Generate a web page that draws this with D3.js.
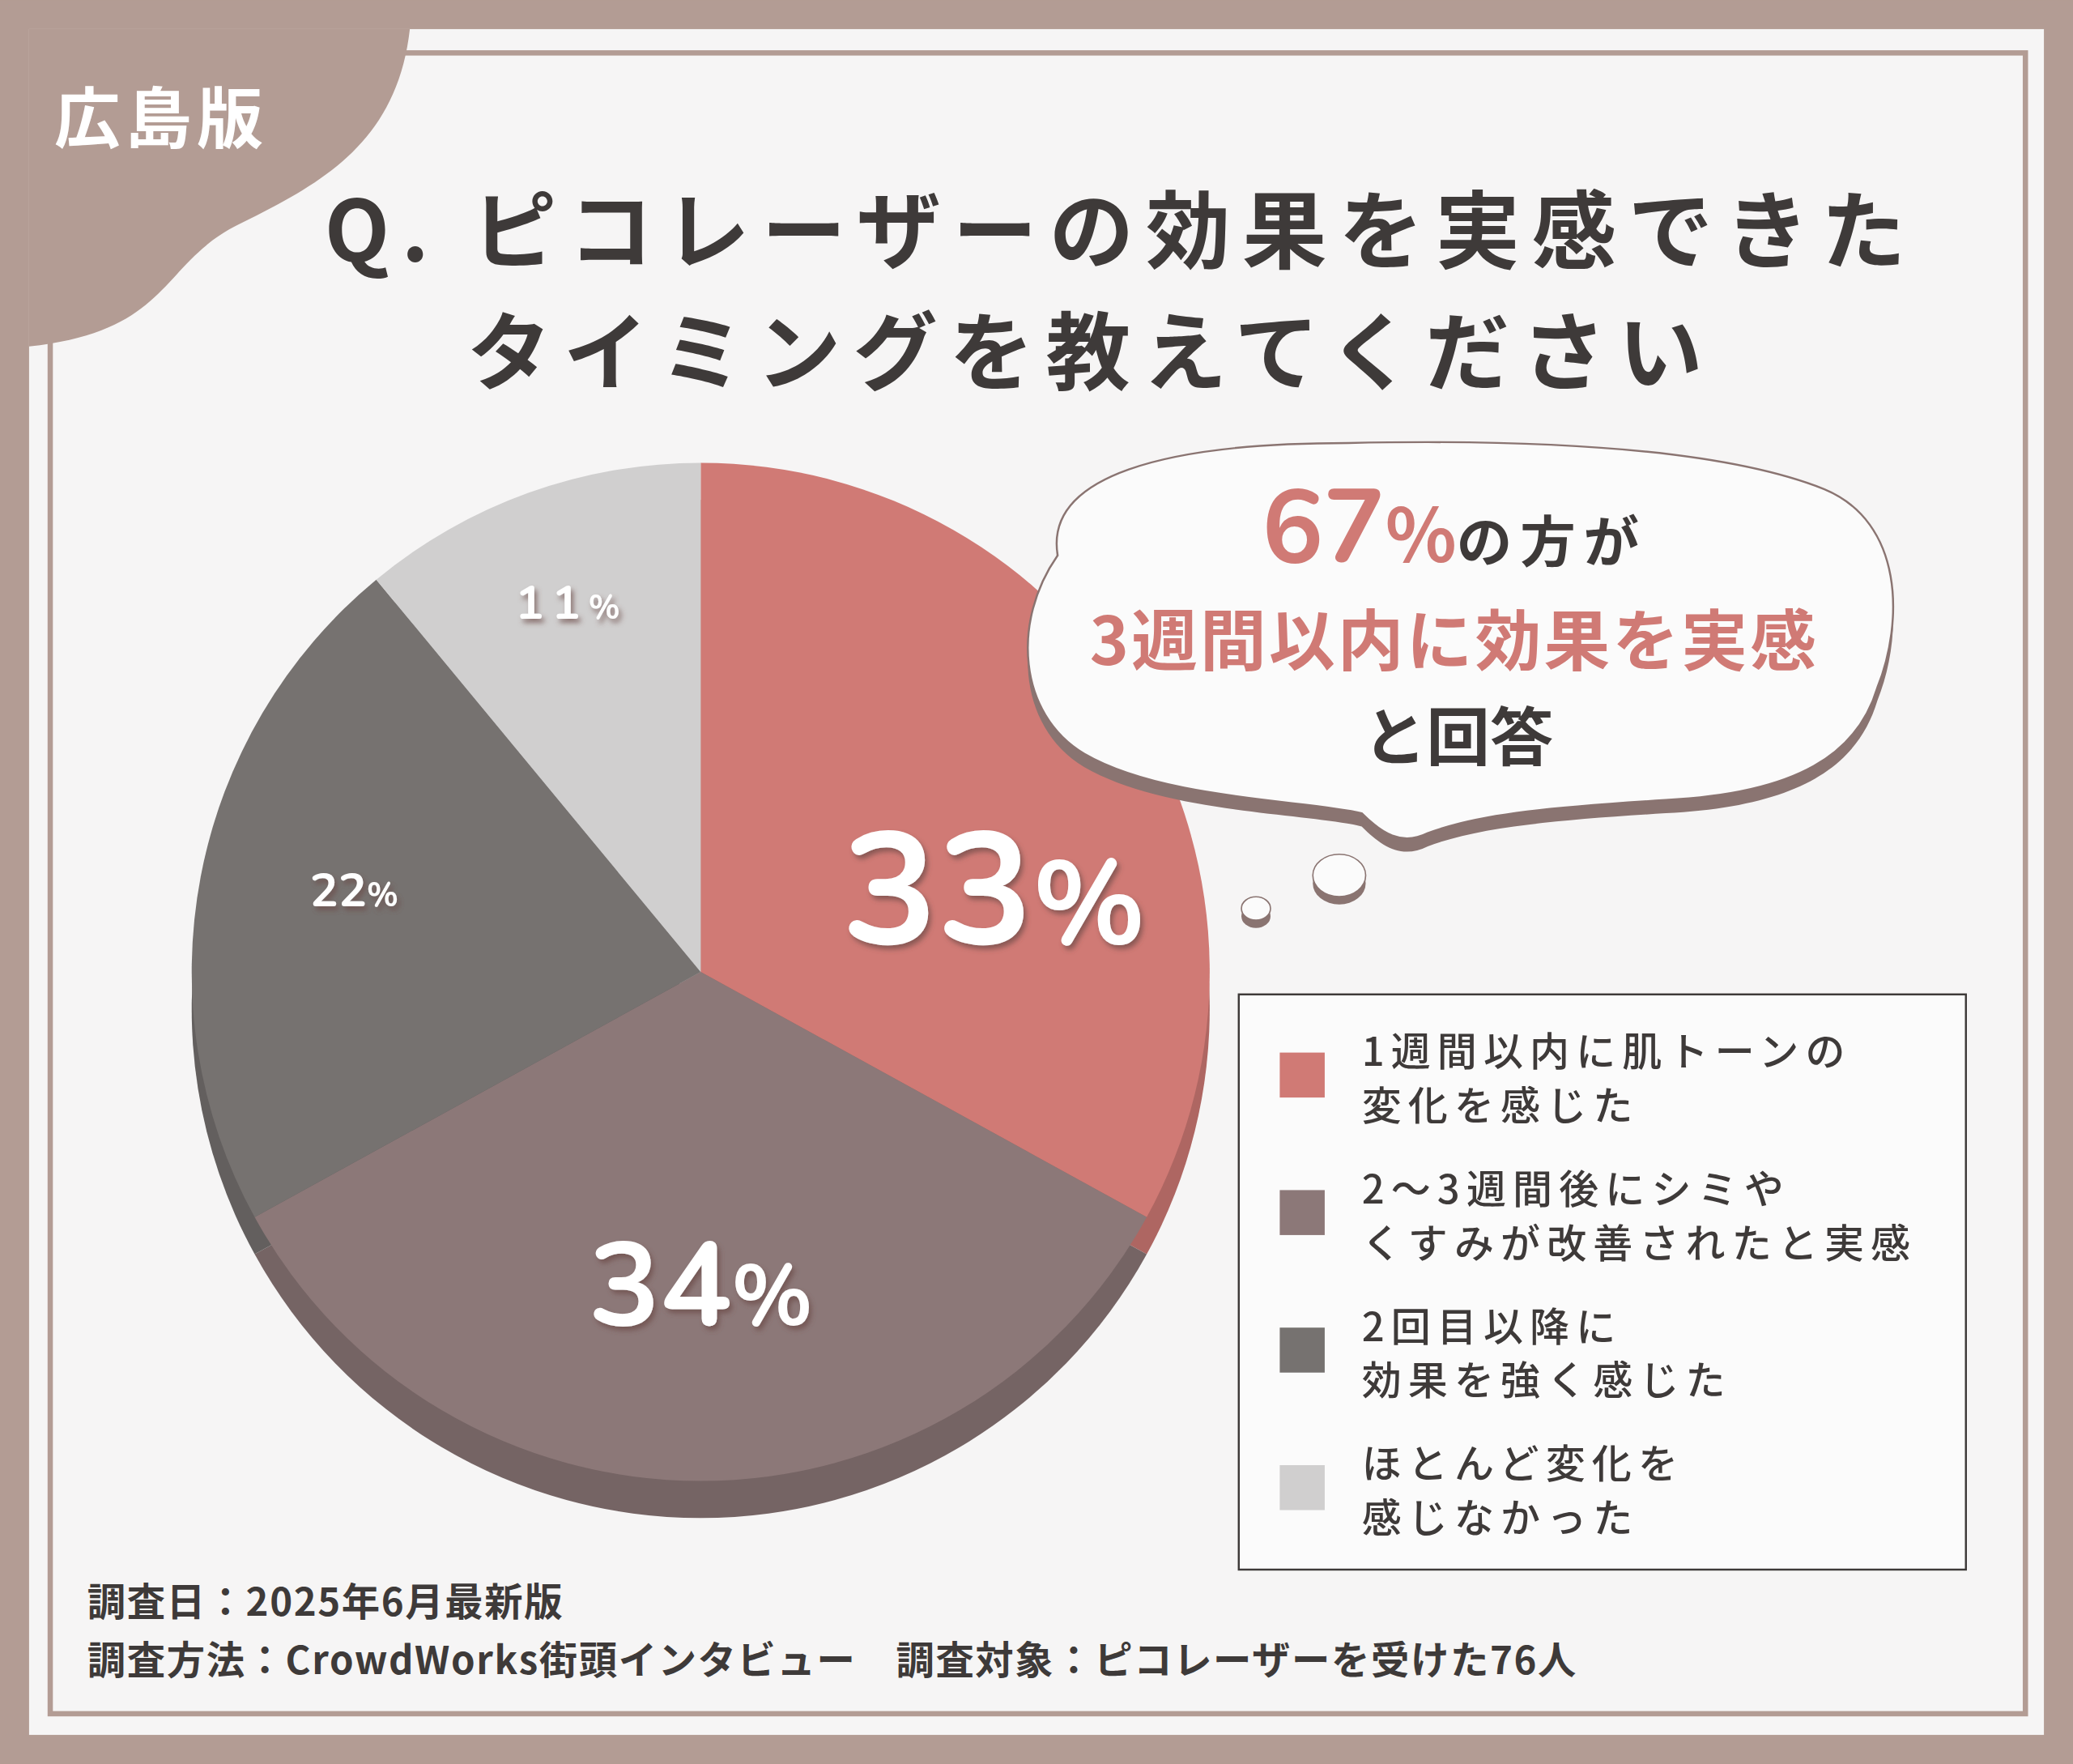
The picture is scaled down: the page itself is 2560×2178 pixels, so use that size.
<!DOCTYPE html>
<html><head><meta charset="utf-8">
<script src="https://cdn.jsdelivr.net/npm/d3@7"></script>
<style>
body{margin:0;background:#b39c94;}
svg{display:block;font-family:"Noto Sans CJK JP","Noto Sans",sans-serif;}
</style></head>
<body>
<svg id="chart" width="2560" height="2178" viewBox="0 0 1568 1334"></svg>
<script>
// chart values
var categories = ['1週間以内に肌トーンの\n変化を感じた', '2〜3週間後にシミや\nくすみが改善されたと実感', '2回目以降に\n効果を強く感じた', 'ほとんど変化を\n感じなかった'];
var values = [33, 34, 22, 11];
var colors = ['#d07a75', '#8c7878', '#767270', '#d0cfcf'];
var titleLines = ['Q. ピコレーザーの効果を実感できた', 'タイミングを教えてください'];
var footerLines = ['調査日：2025年6月最新版', '調査方法：CrowdWorks街頭インタビュー　調査対象：ピコレーザーを受けた76人'];

var svg = d3.select('#chart');
var defs = svg.append('defs');
var f = defs.append('filter').attr('id', 'tshadow').attr('x', '-20%').attr('y', '-20%').attr('width', '140%').attr('height', '140%');
f.append('feDropShadow').attr('dx', 2).attr('dy', 3).attr('stdDeviation', 2).attr('flood-color', '#6b4a45').attr('flood-opacity', 0.7);

// frame
svg.append('rect').attr('width', 1568).attr('height', 1334).attr('fill', '#b39c94');
svg.append('rect').attr('x', 22).attr('y', 22).attr('width', 1524).attr('height', 1290).attr('fill', '#f6f5f5');
svg.append('rect').attr('x', 38).attr('y', 40).attr('width', 1494).attr('height', 1256)
  .attr('fill', 'none').attr('stroke', '#b39c94').attr('stroke-width', 4);
// corner tab
svg.append('path').attr('fill', '#b39c94')
  .attr('d', 'M22,22 L310,22 C300,110 240,140 180,170 C120,200 130,250 22,262 Z');
svg.append('text').attr('x', 122).attr('y', 108).attr('text-anchor', 'middle')
  .attr('font-size', 50).attr('font-weight', 700).attr('fill', '#fff').attr('letter-spacing', 4).text('広島版');

// title
svg.selectAll('.title').data(titleLines).join('text')
  .attr('x', function (d, i) { return i ? 825 : 848; })
  .attr('y', function (d, i) { return 198 + i * 92; })
  .attr('text-anchor', 'middle').attr('font-size', 64).attr('font-weight', 700)
  .attr('fill', '#3e3a39').attr('letter-spacing', 9).text(function (d) { return d; });

// pie
var cx = 530, cy = 735, r = 385;
var pie = d3.pie().sort(null).value(function (d) { return d; });
var arcs = pie(values);
var arc = d3.arc().innerRadius(0).outerRadius(r);
var g = svg.append('g').attr('transform', 'translate(' + cx + ',' + cy + ')');
// 3d rim
g.append('g').attr('transform', 'translate(0,28)').selectAll('path').data(arcs).join('path')
  .attr('d', arc).attr('fill', function (d, i) { return d3.color(colors[i]).darker(0.5); });
g.append('g').selectAll('path').data(arcs).join('path')
  .attr('d', arc).attr('fill', function (d, i) { return colors[i]; });

// slice labels
var labelCfg = [
  { rf: 0.6, da: 0.25, size: 120, pct: 0.75 },
  { rf: 0.61, da: 0, size: 90, pct: 0.72 },
  { rf: 0.7, da: 0.045, size: 36, pct: 0.7 },
  { rf: 0.77, da: 0.01, size: 36, pct: 0.7 }
];
arcs.forEach(function (d, i) {
  var c = labelCfg[i];
  var a = (d.startAngle + d.endAngle) / 2 + c.da;
  var x = Math.sin(a) * r * c.rf, y = -Math.cos(a) * r * c.rf;
  var t = g.append('text').attr('x', x).attr('y', y + c.size * 0.36).attr('text-anchor', 'middle')
    .attr('font-family', 'Nunito,"Noto Sans",sans-serif').attr('font-weight', 700)
    .attr('font-size', c.size).attr('fill', '#fff').attr('filter', 'url(#tshadow)')
    .attr('letter-spacing', i === 3 ? 6 : 0);
  t.append('tspan').text(values[i]);
  t.append('tspan').attr('font-size', c.size * c.pct).text('%');
});

// speech bubble
var bubble = 'M800,420 C790,360 880,335 1020,335 C1160,332 1300,338 1380,370 C1440,395 1440,470 1420,520 C1405,570 1360,600 1260,605 C1180,610 1120,615 1080,630 C1060,640 1045,630 1030,615 C990,605 880,605 820,570 C770,540 765,470 800,420 Z';
svg.append('path').attr('d', bubble).attr('transform', 'translate(0,10)').attr('fill', '#8a7471');
svg.append('path').attr('d', bubble).attr('fill', '#fbfbfb').attr('stroke', '#8a7471').attr('stroke-width', 1.5);
[[1013, 662, 20], [950, 687, 11]].forEach(function (c) {
  svg.append('ellipse').attr('cx', c[0]).attr('cy', c[1] + 6).attr('rx', c[2]).attr('ry', c[2] * 0.8).attr('fill', '#8a7471');
  svg.append('ellipse').attr('cx', c[0]).attr('cy', c[1]).attr('rx', c[2]).attr('ry', c[2] * 0.8).attr('fill', '#fbfbfb').attr('stroke', '#8a7471');
});
var b1 = svg.append('text').attr('x', 1100).attr('y', 425).attr('text-anchor', 'middle').attr('font-weight', 700);
b1.append('tspan').attr('font-size', 78).attr('fill', '#d07a75').attr('font-family', 'Nunito,"Noto Sans",sans-serif').text('67');
b1.append('tspan').attr('font-size', 56).attr('fill', '#d07a75').text('%');
b1.append('tspan').attr('font-size', 42).attr('fill', '#3e3a39').attr('letter-spacing', 6).text('の方が');
svg.append('text').attr('x', 1100).attr('y', 503).attr('text-anchor', 'middle').attr('font-weight', 700)
  .attr('font-size', 50).attr('fill', '#d07a75').attr('letter-spacing', 2).text('3週間以内に効果を実感');
svg.append('text').attr('x', 1103).attr('y', 575).attr('text-anchor', 'middle').attr('font-weight', 700)
  .attr('font-size', 48).attr('fill', '#3e3a39').text('と回答');

// legend
svg.append('rect').attr('x', 937).attr('y', 752).attr('width', 550).attr('height', 435)
  .attr('fill', 'rgba(255,255,255,0.6)').attr('stroke', '#3e3a39').attr('stroke-width', 1.5);
var leg = svg.append('g').selectAll('g').data(categories).join('g')
  .attr('transform', function (d, i) { return 'translate(968,' + (796 + i * 104) + ')'; });
leg.append('rect').attr('width', 34).attr('height', 34).attr('fill', function (d, i) { return colors[i]; });
leg.each(function (d) {
  d3.select(this).selectAll('text').data(d.split('\n')).join('text')
    .attr('x', 62).attr('y', function (l, j) { return 10 + j * 41; })
    .attr('font-size', 30).attr('font-weight', 500).attr('fill', '#3e3a39').attr('letter-spacing', 5)
    .text(function (l) { return l; });
});

// footer
svg.selectAll('.foot').data(footerLines).join('text')
  .attr('x', 66).attr('y', function (d, i) { return 1222 + i * 44; })
  .attr('font-size', 29).attr('font-weight', 700).attr('fill', '#3e3a39').attr('letter-spacing', 1)
  .text(function (d) { return d; });
</script>
</body></html>
